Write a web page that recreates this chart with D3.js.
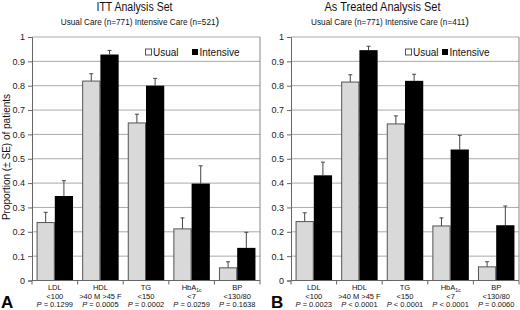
<!DOCTYPE html>
<html>
<head>
<meta charset="utf-8">
<script src="https://cdn.jsdelivr.net/npm/d3@7"></script>
<style>
  body { margin: 0; background: #fff; }
  svg { font-family: "Liberation Sans", Arial, sans-serif; display: block; }
</style>
</head>
<body>
<svg id="chart"></svg>
<script>
const width = 520;
const height = 310;

// categories and criteria
const categories = ["LDL", "HDL", "TG", "HbA1c", "BP"];
const criteria = ["<100", ">40 M >45 F", "<150", "<7", "<130/80"];
const series = ["Usual", "Intensive"];
const yTicks = [0, 0.1, 0.2, 0.3, 0.4, 0.5, 0.6, 0.7, 0.8, 0.9, 1];

// panel A - ITT
const ittUsual = [0.238, 0.819, 0.647, 0.212, 0.052];
const ittUsualSE = [0.042, 0.030, 0.036, 0.045, 0.025];
const ittIntensive = [0.347, 0.928, 0.800, 0.398, 0.134];
const ittIntensiveSE = [0.063, 0.017, 0.030, 0.073, 0.064];
const ittP = ["= 0.1299", "= 0.0005", "= 0.0002", "= 0.0259", "= 0.1638"];

// panel B - as treated
const atUsual = [0.242, 0.815, 0.643, 0.224, 0.056];
const atUsualSE = [0.036, 0.030, 0.033, 0.033, 0.021];
const atIntensive = [0.432, 0.946, 0.820, 0.538, 0.227];
const atIntensiveSE = [0.054, 0.016, 0.027, 0.058, 0.079];
const atP = ["= 0.0023", "< 0.0001", "< 0.0001", "< 0.0001", "= 0.0060"];

var svg = d3.select("#chart").attr("width", width).attr("height", height);

var y = d3.scaleLinear().domain([0, 1]).range([280.5, 37]);

function drawPanel(opt) {
  var g = svg.append("g");
  var x = d3.scaleBand().domain(categories).range([opt.left, opt.right])
    .paddingInner(0.2).paddingOuter(0.1);
  var xs = d3.scaleBand().domain(series).range([0, x.bandwidth()]);

  // gridlines
  g.selectAll(".grid").data(yTicks.slice(1)).enter().append("line")
    .attr("x1", opt.left).attr("x2", opt.right)
    .attr("y1", d => y(d)).attr("y2", d => y(d))
    .attr("stroke", "#aaa").attr("stroke-width", 1);
  // right border
  g.append("line").attr("x1", opt.right).attr("x2", opt.right)
    .attr("y1", y(1)).attr("y2", y(0)).attr("stroke", "#888");

  // y axis
  var yAxis = d3.axisLeft(y).tickValues(yTicks).tickSize(4).tickPadding(3)
    .tickFormat(d => (d === 0 || d === 1) ? d : d.toFixed(1));
  var ya = g.append("g").attr("transform", `translate(${opt.left},0)`).call(yAxis);
  ya.select(".domain").attr("stroke", "#666");
  ya.selectAll(".tick line").attr("stroke", "#666");
  ya.selectAll("text").attr("font-size", 9).attr("fill", "#222")
    .attr("font-family", "Liberation Sans, Arial, sans-serif");

  // bars
  var rows = categories.map((c, i) => [
    {cat: c, s: "Usual", v: opt.usual[i], se: opt.usualSE[i]},
    {cat: c, s: "Intensive", v: opt.intensive[i], se: opt.intensiveSE[i]}
  ]);
  var grp = g.selectAll(".cat").data(rows).enter().append("g")
    .attr("transform", d => `translate(${x(d[0].cat)},0)`);

  // error bars (upper only)
  grp.selectAll(".err").data(d => d).enter().append("line")
    .attr("x1", d => xs(d.s) + xs.bandwidth() / 2)
    .attr("x2", d => xs(d.s) + xs.bandwidth() / 2)
    .attr("y1", d => y(d.v)).attr("y2", d => y(d.v + d.se))
    .attr("stroke", "#444").attr("stroke-width", 1);
  grp.selectAll(".cap").data(d => d).enter().append("line")
    .attr("x1", d => xs(d.s) + xs.bandwidth() / 2 - 2)
    .attr("x2", d => xs(d.s) + xs.bandwidth() / 2 + 2)
    .attr("y1", d => y(d.v + d.se)).attr("y2", d => y(d.v + d.se))
    .attr("stroke", "#444").attr("stroke-width", 1);

  grp.selectAll("rect").data(d => d).enter().append("rect")
    .attr("x", d => xs(d.s) + (d.s == "Usual" ? 0.5 : 0))
    .attr("width", d => xs.bandwidth() - (d.s == "Usual" ? 1 : 0))
    .attr("y", d => y(d.v))
    .attr("height", d => y(0) - y(d.v))
    .attr("fill", d => d.s == "Usual" ? "#d9d9d9" : "#000")
    .attr("stroke", d => d.s == "Usual" ? "#555" : "none")
    .attr("stroke-width", 1);

  // x axis line and boundary ticks
  g.append("line").attr("x1", opt.left).attr("x2", opt.right)
    .attr("y1", y(0)).attr("y2", y(0)).attr("stroke", "#666");
  var bounds = d3.range(categories.length + 1).map(i => opt.left + i * x.step());
  g.selectAll(".xt").data(bounds).enter().append("line")
    .attr("x1", d => d).attr("x2", d => d)
    .attr("y1", y(0)).attr("y2", y(0) + 4).attr("stroke", "#666");

  // category labels
  var lab = g.selectAll(".lab").data(categories).enter().append("text")
    .attr("text-anchor", "middle").attr("font-size", 7.5).attr("fill", "#111")
    .attr("x", d => x(d) + x.bandwidth() / 2);
  lab.each(function(d, i) {
    var t = d3.select(this);
    var cx = x(d) + x.bandwidth() / 2;
    var l1 = t.append("tspan").attr("x", cx).attr("y", 290);
    if (d == "HbA1c") {
      l1.text("HbA");
      t.append("tspan").attr("font-size", 5).attr("dy", 2).text("1c");
    } else {
      l1.text(d);
    }
    t.append("tspan").attr("x", cx).attr("y", 298.5).text(criteria[i]);
    t.append("tspan").attr("x", cx).attr("y", 307).attr("font-style", "italic").text("P");
    t.append("tspan").text(" " + opt.p[i]);
  });

  // titles
  svg.append("text").attr("x", opt.titleX).attr("y", 10.5)
    .attr("text-anchor", "middle").attr("font-size", 12)
    .attr("textLength", opt.titleLen).attr("lengthAdjust", "spacingAndGlyphs")
    .attr("fill", "#111").text(opt.title);
  var sub = svg.append("text").attr("x", opt.subX).attr("y", 24.5)
    .attr("text-anchor", "middle").attr("font-size", 8.2).attr("fill", "#111");
  sub.append("tspan").text(opt.subtitle);
  sub.append("tspan").attr("font-size", 11).attr("dy", 0.5).text(")");

  // legend
  var lg = svg.append("g").attr("font-size", 10).attr("fill", "#111");
  lg.append("rect").attr("x", opt.legX[0]).attr("y", 49).attr("width", 6).attr("height", 6)
    .attr("fill", "#fff").attr("stroke", "#555");
  lg.append("text").attr("x", opt.legX[0] + 7.5).attr("y", 55.5).text("Usual");
  lg.append("rect").attr("x", opt.legX[1]).attr("y", 49).attr("width", 6).attr("height", 6)
    .attr("fill", "#000");
  lg.append("text").attr("x", opt.legX[1] + 7.5).attr("y", 55.5).text("Intensive");

  // panel letter
  svg.append("text").attr("x", opt.letterX).attr("y", 307.5)
    .attr("font-size", 17).attr("font-weight", "bold").attr("fill", "#000")
    .text(opt.letter);
}

drawPanel({
  left: 32, right: 260,
  usual: ittUsual, usualSE: ittUsualSE,
  intensive: ittIntensive, intensiveSE: ittIntensiveSE,
  p: ittP,
  title: "ITT Analysis Set", titleX: 134.5, titleLen: 76,
  subtitle: "Usual Care (n=771) Intensive Care (n=521", subX: 140,
  legX: [145.5, 192], letter: "A", letterX: 1
});

drawPanel({
  left: 291, right: 519,
  usual: atUsual, usualSE: atUsualSE,
  intensive: atIntensive, intensiveSE: atIntensiveSE,
  p: atP,
  title: "As Treated Analysis Set", titleX: 382.5, titleLen: 116,
  subtitle: "Usual Care (n=771) Intensive Care (n=411", subX: 390,
  legX: [405.5, 442], letter: "B", letterX: 271
});

// y axis title
svg.append("text")
  .attr("transform", "translate(10,157) rotate(-90)")
  .attr("text-anchor", "middle").attr("font-size", 10).attr("fill", "#111")
  .text("Proportion (\u00b1 SE) of patients");
</script>
</body>
</html>
